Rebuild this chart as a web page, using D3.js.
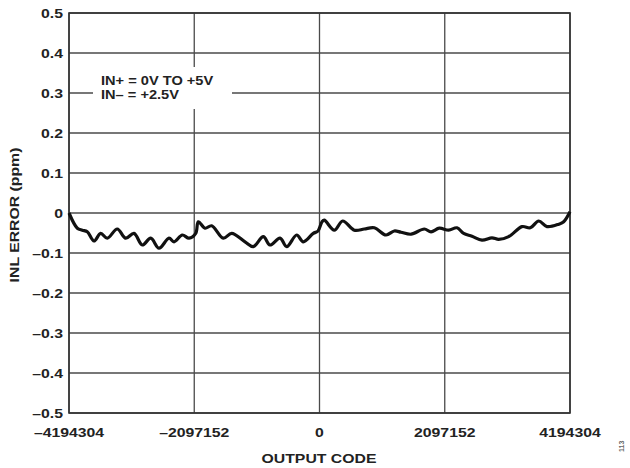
<!DOCTYPE html>
<html><head><meta charset="utf-8">
<script src="https://cdn.jsdelivr.net/npm/d3@7"></script>
<style>body{margin:0;background:#fff}svg{display:block}text{font-family:"Liberation Sans",Arial,sans-serif;font-weight:bold;fill:#222}</style>
</head><body>
<script>
// Output code (in millions of codes) and INL error (ppm)
const codesM = [-4.194,-4.055,-3.972,-3.888,-3.776,-3.664,-3.553,-3.386,-3.245,-3.106,-2.967,-2.826,-2.687,-2.520,-2.436,-2.297,-2.185,-2.073,-2.029,-1.917,-1.805,-1.611,-1.470,-1.247,-1.108,-0.941,-0.829,-0.661,-0.549,-0.382,-0.271,-0.104,-0.025,0.042,0.080,0.248,0.388,0.583,0.750,0.918,1.113,1.252,1.365,1.532,1.755,1.867,2.006,2.163,2.302,2.414,2.553,2.721,2.888,3.000,3.168,3.391,3.530,3.670,3.809,4.005,4.089,4.194];
const inl = [0.000,-0.038,-0.043,-0.047,-0.070,-0.051,-0.063,-0.040,-0.063,-0.051,-0.080,-0.063,-0.088,-0.063,-0.072,-0.055,-0.063,-0.051,-0.022,-0.038,-0.032,-0.063,-0.051,-0.072,-0.084,-0.059,-0.080,-0.063,-0.084,-0.055,-0.072,-0.051,-0.045,-0.022,-0.018,-0.043,-0.020,-0.043,-0.040,-0.037,-0.055,-0.045,-0.048,-0.053,-0.040,-0.047,-0.038,-0.043,-0.037,-0.051,-0.058,-0.068,-0.062,-0.066,-0.059,-0.034,-0.037,-0.020,-0.034,-0.028,-0.022,0.003];
const xTicks = [-4194304,-2097152,0,2097152,4194304];
const yTicks = [0.5,0.4,0.3,0.2,0.1,0,-0.1,-0.2,-0.3,-0.4,-0.5];
const legendLines = ["IN+ = 0V TO +5V","IN\u2013 = +2.5V"];
const xTitle = "OUTPUT CODE", yTitle = "INL ERROR (ppm)", figId = "113";

const W=630,H=468, L=69, R=570, T=13, B=413, SX=1.17, FS=13.5;
const svg = d3.select("body").append("svg").attr("width",W).attr("height",H);
const x = d3.scaleLinear().domain([-4194304,4194304]).range([L,R]);
const y = d3.scaleLinear().domain([-0.5,0.5]).range([B,T]);
const fmt = v => (v<0 ? "\u2013" : "") + Math.abs(v).toString();

// grid
const g = svg.append("g");
g.selectAll("line.h").data(yTicks).join("line").attr("x1",L).attr("x2",R)
  .attr("y1",d=>y(d)).attr("y2",d=>y(d)).attr("stroke","#4a4a4a").attr("stroke-width",1.3);
g.selectAll("line.v").data(xTicks).join("line").attr("y1",T).attr("y2",B)
  .attr("x1",d=>x(d)).attr("x2",d=>x(d)).attr("stroke","#4a4a4a").attr("stroke-width",1.3);
svg.append("rect").attr("x",L).attr("y",T).attr("width",R-L).attr("height",B-T)
  .attr("fill","none").attr("stroke","#333").attr("stroke-width",1.6);

// legend box
svg.append("rect").attr("x",93).attr("y",67).attr("width",139).attr("height",42).attr("fill","#fff");
svg.append("g").selectAll("text").data(legendLines).join("text")
  .attr("transform",(d,i)=>`translate(101,${84.5+i*14.5}) scale(${SX},1)`).attr("font-size",12.5).text(d=>d);

// line
const pts = codesM.map((c,i)=>[c*1e6, inl[i]]);
svg.append("path").datum(pts).attr("fill","none").attr("stroke","#111").attr("stroke-width",3.2)
  .attr("stroke-linejoin","round")
  .attr("d", d3.line().x(d=>x(d[0])).y(d=>y(d[1])).curve(d3.curveCatmullRom.alpha(0.5)));

// axes labels
svg.append("g").selectAll("text").data(yTicks).join("text")
  .attr("transform",d=>`translate(63,${y(d)+5}) scale(${SX},1)`).attr("text-anchor","end").attr("font-size",FS).text(fmt);
svg.append("g").selectAll("text").data(xTicks).join("text")
  .attr("transform",d=>`translate(${x(d)},437) scale(${SX},1)`).attr("text-anchor","middle").attr("font-size",FS).text(fmt);
svg.append("text").attr("transform",`translate(319,463) scale(${SX},1)`).attr("text-anchor","middle").attr("font-size",FS).text(xTitle);
svg.append("text").attr("transform",`translate(18.5,215) rotate(-90) scale(${SX},1)`).attr("text-anchor","middle").attr("font-size",FS).text(yTitle);
svg.append("text").attr("transform","translate(624,452) rotate(-90)").attr("font-size",7).attr("font-weight","normal").style("fill","#666").text(figId);
</script>
</body></html>
